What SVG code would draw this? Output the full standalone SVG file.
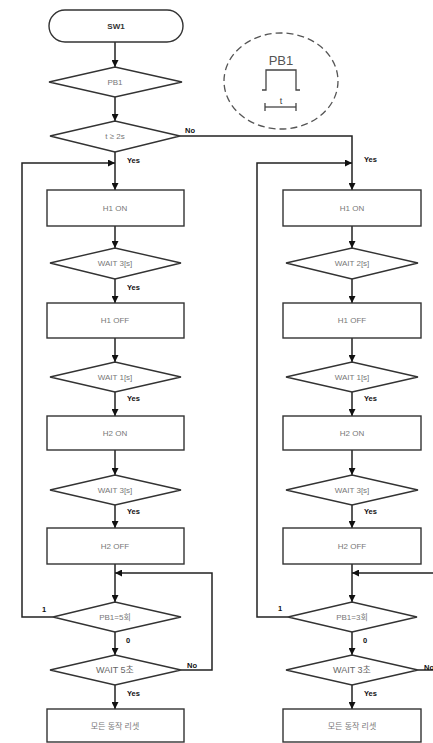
<svg xmlns="http://www.w3.org/2000/svg" width="433" height="743" viewBox="0 0 433 743">
<defs>
<marker id="ah" viewBox="0 0 10 10" refX="10" refY="5" markerWidth="11" markerHeight="7" orient="auto" markerUnits="userSpaceOnUse">
<path d="M0,0 L10,5 L0,10 z" fill="#111"/>
</marker>
</defs>
<style>
.shape{fill:#fff;stroke:#333;stroke-width:1.4}
.t{font-family:"Liberation Sans","Noto Sans CJK KR",sans-serif;font-size:8px;fill:#777;text-anchor:middle;dominant-baseline:central}
.sw{font-family:"Liberation Sans",sans-serif;font-size:8px;font-weight:bold;fill:#333;text-anchor:middle;dominant-baseline:central}
.lb{font-family:"Liberation Sans",sans-serif;font-size:7.5px;font-weight:bold;fill:#111}
.a{fill:none;stroke:#222;stroke-width:1.5;marker-end:url(#ah)}
</style>
<rect width="433" height="743" fill="#fff"/>

<g id="connectors">
<line class="a" x1="115" y1="42" x2="115" y2="67"/>
<line class="a" x1="115" y1="97" x2="115" y2="121"/>
<line class="a" x1="115" y1="152" x2="115" y2="190"/>
<polyline class="a" points="53,617 22,617 22,163 115,163"/>
<line class="a" x1="115" y1="226" x2="115" y2="248"/>
<line class="a" x1="115" y1="279" x2="115" y2="303"/>
<line class="a" x1="115" y1="338" x2="115" y2="362"/>
<line class="a" x1="115" y1="392" x2="115" y2="416"/>
<line class="a" x1="115" y1="450" x2="115" y2="475"/>
<line class="a" x1="115" y1="505" x2="115" y2="528"/>
<line class="a" x1="115" y1="564" x2="115" y2="602"/>
<polyline class="a" points="181,670 212,670 212,573 115,573"/>
<line class="a" x1="115" y1="632" x2="115" y2="655"/>
<line class="a" x1="115" y1="685" x2="115" y2="709"/>
<polyline class="a" points="180,136 352,136 352,190"/>
<polyline class="a" points="288,617 257,617 257,163 352,163"/>
<line class="a" x1="352" y1="226" x2="352" y2="248"/>
<line class="a" x1="352" y1="279" x2="352" y2="303"/>
<line class="a" x1="352" y1="338" x2="352" y2="362"/>
<line class="a" x1="352" y1="392" x2="352" y2="416"/>
<line class="a" x1="352" y1="450" x2="352" y2="475"/>
<line class="a" x1="352" y1="505" x2="352" y2="528"/>
<line class="a" x1="352" y1="564" x2="352" y2="602"/>
<polyline class="a" points="418,670 440,670 440,573 352,573"/>
<line class="a" x1="352" y1="632" x2="352" y2="655"/>
<line class="a" x1="352" y1="685" x2="352" y2="709"/>
<text class="lb" x="185" y="133">No</text>
<text class="lb" x="127" y="163">Yes</text>
<text class="lb" x="364" y="162">Yes</text>
<text class="lb" x="127" y="290">Yes</text>
<text class="lb" x="127" y="401">Yes</text>
<text class="lb" x="364" y="401">Yes</text>
<text class="lb" x="127" y="514">Yes</text>
<text class="lb" x="364" y="514">Yes</text>
<text class="lb" x="42" y="612">1</text>
<text class="lb" x="278" y="611">1</text>
<text class="lb" x="126" y="643">0</text>
<text class="lb" x="363" y="643">0</text>
<text class="lb" x="187" y="668">No</text>
<text class="lb" x="424" y="670">No</text>
<text class="lb" x="127" y="696">Yes</text>
<text class="lb" x="364" y="696">Yes</text>
</g>

<g id="note">
<ellipse cx="281" cy="81" rx="57" ry="48" fill="none" stroke="#555" stroke-width="1.3" stroke-dasharray="7,4"/>
<text x="281" y="65" font-family="Liberation Sans,sans-serif" font-size="13" fill="#555" text-anchor="middle">PB1</text>
<polyline points="262,90 266,90 266,70 296,70 296,90 300,90" fill="none" stroke="#444" stroke-width="1.3"/>
<line x1="265" y1="107" x2="296" y2="107" stroke="#444" stroke-width="1.3"/>
<line x1="265" y1="103" x2="265" y2="111" stroke="#444" stroke-width="1.3"/>
<line x1="296" y1="103" x2="296" y2="111" stroke="#444" stroke-width="1.3"/>
<text x="281" y="104" font-family="Liberation Sans,sans-serif" font-size="9" fill="#444" text-anchor="middle">t</text>
</g>

<g id="n-sw1"><rect class="shape" x="49" y="10" width="134" height="32" rx="16"/><text class="sw" x="116" y="26">SW1</text></g>
<g id="n-pb1"><polygon class="shape" points="49,82 115,67 182,82 115,97"/><text class="t" x="115" y="82">PB1</text></g>
<g id="n-t2s"><polygon class="shape" points="50,136 115,121 180,136 115,152"/><text class="t" x="115" y="136">t ≥ 2s</text></g>

<g id="n-l-h1on"><rect class="shape" x="47" y="190" width="137" height="36"/><text class="t" x="115" y="208">H1 ON</text></g>
<g id="n-l-w3"><polygon class="shape" points="50,263 115,248 181,263 115,279"/><text class="t" x="115" y="263">WAIT 3[s]</text></g>
<g id="n-l-h1off"><rect class="shape" x="47" y="303" width="137" height="35"/><text class="t" x="115" y="320">H1 OFF</text></g>
<g id="n-l-w1"><polygon class="shape" points="50,377 115,362 181,377 115,392"/><text class="t" x="115" y="377">WAIT 1[s]</text></g>
<g id="n-l-h2on"><rect class="shape" x="47" y="416" width="137" height="34"/><text class="t" x="115" y="433">H2 ON</text></g>
<g id="n-l-w3b"><polygon class="shape" points="50,490 115,475 181,490 115,505"/><text class="t" x="115" y="490">WAIT 3[s]</text></g>
<g id="n-l-h2off"><rect class="shape" x="47" y="528" width="137" height="36"/><text class="t" x="115" y="546">H2 OFF</text></g>
<g id="n-l-pb5"><polygon class="shape" points="53,617 115,602 181,617 115,632"/><text class="t" x="115" y="617">PB1=5회</text></g>
<g id="n-l-w5"><polygon class="shape" points="50,670 115,655 181,670 115,685"/><text class="t" x="115" y="670" style="font-size:9px;fill:#666">WAIT 5초</text></g>
<g id="n-l-reset"><rect class="shape" x="47" y="709" width="137" height="33"/><text class="t" x="115" y="726">모든 동작 리셋</text></g>

<g id="n-r-h1on"><rect class="shape" x="283" y="190" width="138" height="36"/><text class="t" x="352" y="208">H1 ON</text></g>
<g id="n-r-w2"><polygon class="shape" points="286,263 352,248 418,263 352,279"/><text class="t" x="352" y="263">WAIT 2[s]</text></g>
<g id="n-r-h1off"><rect class="shape" x="283" y="303" width="138" height="35"/><text class="t" x="352" y="320">H1 OFF</text></g>
<g id="n-r-w1"><polygon class="shape" points="286,377 352,362 418,377 352,392"/><text class="t" x="352" y="377">WAIT 1[s]</text></g>
<g id="n-r-h2on"><rect class="shape" x="283" y="416" width="138" height="34"/><text class="t" x="352" y="433">H2 ON</text></g>
<g id="n-r-w3"><polygon class="shape" points="286,490 352,475 418,490 352,505"/><text class="t" x="352" y="490">WAIT 3[s]</text></g>
<g id="n-r-h2off"><rect class="shape" x="283" y="528" width="138" height="36"/><text class="t" x="352" y="546">H2 OFF</text></g>
<g id="n-r-pb3"><polygon class="shape" points="288,617 352,602 417,617 352,632"/><text class="t" x="352" y="617">PB1=3회</text></g>
<g id="n-r-w3s"><polygon class="shape" points="286,670 352,655 418,670 352,685"/><text class="t" x="352" y="670" style="font-size:9px;fill:#666">WAIT 3초</text></g>
<g id="n-r-reset"><rect class="shape" x="283" y="709" width="138" height="33"/><text class="t" x="352" y="726">모든 동작 리셋</text></g>
</svg>
